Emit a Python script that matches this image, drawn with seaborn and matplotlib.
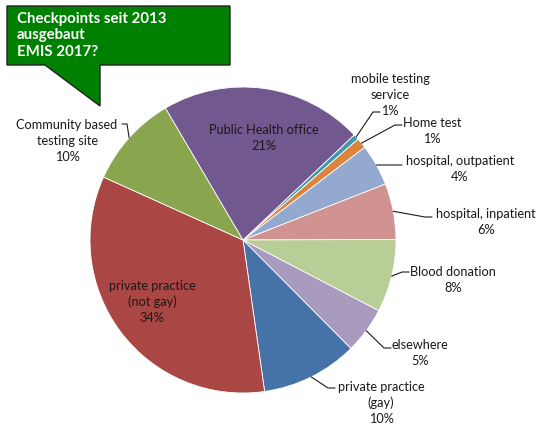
import numpy as np
import matplotlib
matplotlib.use('Agg')
import matplotlib.pyplot as plt
import seaborn as sns
from matplotlib.patches import Polygon

# data (shares in %, clockwise from the small teal slice)
categories = ['mobile testing\nservice', 'Home test', 'hospital, outpatient',
              'hospital, inpatient', 'Blood donation', 'elsewhere',
              'private practice\n(gay)', 'private practice\n(not gay)',
              'Community based\ntesting site', 'Public Health office']
shares = [0.6, 1.1, 4.4, 5.9, 7.7, 4.9, 10.2, 34.0, 9.8, 21.4]
slice_colors = ['#4198AF', '#DB843D', '#93A9CF', '#D19392', '#B9CD96',
                '#A99BBD', '#4572A7', '#AA4643', '#89A54E', '#71588F']

callout_text = 'Checkpoints seit 2013\nausgebaut\nEMIS 2017?'

sns.set_theme(style='white')
plt.rcParams['font.family'] = ['Lato', 'DejaVu Sans']

W, H = 537, 427
fig = plt.figure(figsize=(W / 100, H / 100), dpi=100)
ax = fig.add_axes([0, 0, 1, 1])

def py(y):
    # pixel row (from top) -> data y
    return H - y

cx, cy, r = 243, py(241), 153
wedges, _ = ax.pie(shares, colors=sns.color_palette(slice_colors), startangle=43.4,
                   counterclock=False, center=(cx, cy), radius=r,
                   wedgeprops=dict(linewidth=0.6, edgecolor='white'))
ax.set_xlim(0, W)
ax.set_ylim(0, H)
ax.axis('off')

fs = 9.2
# label layout: (text center x, text center y, attach x, attach y, side) in pixels
layout = {
    'mobile testing\nservice': (390, 95, 380, 113, 'r'),
    'Home test': (432, 131, 402, 126, 'r'),
    'hospital, outpatient': (460, 169, 402, 166, 'r'),
    'hospital, inpatient': (486, 222, 432, 218, 'r'),
    'Blood donation': (453, 280, 409, 273, 'r'),
    'elsewhere': (420, 353, 391, 349, 'r'),
    'private practice\n(gay)': (381, 403, 335, 389, 'r'),
    'Community based\ntesting site': (67, 141, 122, 125, 'l'),
}
inside = {
    'Public Health office': (264, 138),
    'private practice\n(not gay)': (152, 302),
}

for w, cat, val in zip(wedges, categories, shares):
    txt = cat + '\n' + f'{round(val)}%'
    if cat in inside:
        tx, ty = inside[cat]
        ax.text(tx, py(ty), txt, ha='center', va='center', fontsize=fs,
                color='#1a1a1a', linespacing=1.4)
        continue
    tx, ty, axp, ayp, side = layout[cat]
    ax.text(tx, py(ty), txt, ha='center', va='center', fontsize=fs,
            color='#1a1a1a', linespacing=1.4)
    mid = np.deg2rad((w.theta1 + w.theta2) / 2)
    ex, ey = cx + r * np.cos(mid), cy + r * np.sin(mid)
    elbow = axp - 7 if side == 'r' else axp + 5
    ax.plot([ex, elbow, axp], [ey, py(ayp), py(ayp)], color='#1a1a1a', lw=0.8)

# green callout
box = [(7, 7), (230, 7), (230, 66), (100, 66), (100, 107), (45, 66), (7, 66)]
ax.add_patch(Polygon([(x, py(y)) for x, y in box], closed=True,
                     facecolor='#008000', edgecolor='#222222', lw=1.0))
ax.text(17, py(12), callout_text, ha='left', va='top', fontsize=10.8,
        fontweight='bold', color='white', linespacing=1.22)

fig.savefig('out.png', dpi=100)
